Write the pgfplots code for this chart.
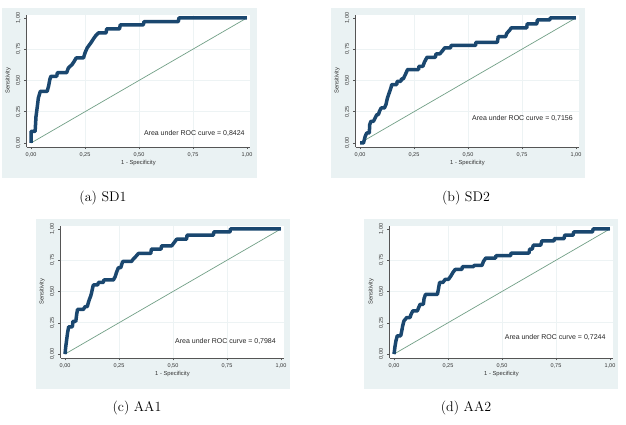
\documentclass[border=0pt]{standalone}
\usepackage{pgfplots}
\pgfplotsset{compat=1.18}
\usepackage{fontspec}
\newfontfamily\stata{Liberation Sans}
\definecolor{bgc}{HTML}{EAF2F3}
\definecolor{gridc}{HTML}{EDF3F4}
\definecolor{navyc}{HTML}{1A476F}
\definecolor{diagc}{HTML}{72A087}
\definecolor{axc}{HTML}{555555}

\pgfplotsset{roc/.style={
 scale only axis, width=223.5pt, height=132pt,
 xmin=-0.02, xmax=1.015, ymin=-0.03, ymax=1.025,
 axis x line*=bottom, axis y line*=left,
 axis line style={draw=axc, line width=0.5pt, -},
 axis background/.style={fill=white},
 xtick={0,0.25,0.5,0.75,1}, ytick={0,0.25,0.5,0.75,1},
 xticklabels={{0,00},{0,25},{0,50},{0,75},{1,00}},
 yticklabels={{0,00},{0,25},{0,50},{0,75},{1,00}},
 tick align=outside, major tick length=2.5pt,
 tick style={draw=axc, line width=0.5pt},
 ticklabel style={font=\stata\fontsize{5.5}{6}\selectfont, text=black!80},
 yticklabel style={rotate=90, anchor=south},
 extra x ticks={0.25,0.5,0.75}, extra y ticks={0.25,0.5,0.75},
 extra x tick labels={}, extra y tick labels={},
 extra tick style={grid=major, major tick length=0pt},
 grid style={draw=gridc, line width=0.8pt},
 xlabel={1 - Specificity}, ylabel={Sensitivity},
 label style={font=\stata\fontsize{5.8}{6.5}\selectfont, text=black!80},
 xlabel shift=-6pt, ylabel shift=-4pt,
 clip=false,
}}
\tikzset{auc/.style={font=\stata\fontsize{7}{8}\selectfont, text=black!85, anchor=east, inner sep=0pt}}
\tikzset{mycap/.style={font=\fontsize{14}{16}\selectfont}}

\begin{document}
\begin{tikzpicture}
\fill[white] (0pt,0pt) rectangle (626pt,424pt);
\fill[bgc] (2pt,246pt) rectangle (257pt,416pt);
\fill[bgc] (331pt,246pt) rectangle (585pt,416pt);
\fill[bgc] (36pt,35pt) rectangle (290pt,205pt);
\fill[bgc] (364pt,35pt) rectangle (618pt,205pt);

% (a) SD1
\begin{axis}[roc, at={(26.7pt,277.25pt)}, anchor=south west]
\addplot[diagc, line width=0.7pt] coordinates {(0,0) (1,1)};
\addplot[navyc, line width=3.5pt, line join=round] coordinates {
(0,0) (0,0.093) (0.019,0.093) (0.023,0.21) (0.029,0.29) (0.034,0.36) (0.04,0.395) (0.043,0.413) (0.075,0.413) (0.082,0.46) (0.087,0.507) (0.092,0.533) (0.119,0.533) (0.122,0.562) (0.165,0.562) (0.173,0.6) (0.19,0.627) (0.2,0.653) (0.209,0.68) (0.243,0.68) (0.25,0.72) (0.26,0.76) (0.277,0.8) (0.289,0.832) (0.3,0.859) (0.312,0.88) (0.348,0.88) (0.35,0.912) (0.41,0.912) (0.413,0.944) (0.52,0.944) (0.523,0.97) (0.682,0.97) (0.685,1) (1,1)};
\node[auc] at (axis cs:0.99,0.08) {Area under ROC curve = 0,8424};
\end{axis}

% (b) SD2
\begin{axis}[roc, at={(355.7pt,277.25pt)}, anchor=south west]
\addplot[diagc, line width=0.7pt] coordinates {(0,0) (1,1)};
\addplot[navyc, line width=3.5pt, line join=round] coordinates {
(0,0) (0.016,0) (0.02,0.027) (0.024,0.053) (0.031,0.08) (0.043,0.08) (0.045,0.147) (0.05,0.173) (0.062,0.173) (0.07,0.2) (0.078,0.227) (0.085,0.227) (0.09,0.253) (0.098,0.28) (0.113,0.28) (0.12,0.307) (0.127,0.36) (0.135,0.4) (0.143,0.44) (0.147,0.467) (0.17,0.467) (0.172,0.493) (0.189,0.493) (0.192,0.512) (0.2,0.512) (0.21,0.547) (0.22,0.587) (0.271,0.587) (0.273,0.613) (0.291,0.613) (0.298,0.645) (0.31,0.685) (0.349,0.685) (0.352,0.712) (0.369,0.712) (0.38,0.733) (0.392,0.76) (0.419,0.76) (0.422,0.78) (0.535,0.78) (0.537,0.805) (0.636,0.805) (0.64,0.85) (0.674,0.85) (0.68,0.877) (0.694,0.904) (0.7,0.92) (0.772,0.92) (0.774,0.952) (0.819,0.952) (0.821,0.984) (0.879,0.984) (0.881,1) (1,1)};
\node[auc] at (axis cs:0.986,0.2) {Area under ROC curve = 0,7156};
\end{axis}

% (c) AA1
\begin{axis}[roc, at={(60.7pt,66.2pt)}, anchor=south west]
\addplot[diagc, line width=0.7pt] coordinates {(0,0) (1,1)};
\addplot[navyc, line width=3.5pt, line join=round] coordinates {
(0,0) (0.003,0.053) (0.008,0.12) (0.012,0.172) (0.017,0.218) (0.034,0.218) (0.037,0.262) (0.05,0.262) (0.054,0.318) (0.058,0.357) (0.085,0.357) (0.093,0.379) (0.103,0.379) (0.108,0.41) (0.113,0.437) (0.119,0.464) (0.123,0.49) (0.128,0.53) (0.131,0.552) (0.151,0.552) (0.155,0.572) (0.177,0.572) (0.18,0.592) (0.224,0.592) (0.232,0.618) (0.239,0.655) (0.247,0.69) (0.258,0.69) (0.267,0.74) (0.308,0.74) (0.317,0.761) (0.329,0.782) (0.34,0.804) (0.397,0.804) (0.4,0.839) (0.445,0.839) (0.447,0.865) (0.494,0.865) (0.505,0.89) (0.517,0.918) (0.563,0.918) (0.565,0.95) (0.687,0.95) (0.689,0.976) (0.764,0.976) (0.766,1) (1,1)};
\node[auc] at (axis cs:0.977,0.10) {Area under ROC curve = 0,7984};
\end{axis}

% (d) AA2
\begin{axis}[roc, at={(389.7pt,66.2pt)}, anchor=south west]
\addplot[diagc, line width=0.7pt] coordinates {(0,0) (1,1)};
\addplot[navyc, line width=3.5pt, line join=round] coordinates {
(0,0) (0.005,0.066) (0.009,0.106) (0.015,0.146) (0.031,0.146) (0.036,0.186) (0.04,0.225) (0.046,0.265) (0.059,0.292) (0.074,0.292) (0.079,0.318) (0.087,0.345) (0.108,0.345) (0.114,0.371) (0.121,0.398) (0.136,0.398) (0.139,0.443) (0.146,0.477) (0.201,0.477) (0.206,0.523) (0.211,0.572) (0.226,0.572) (0.237,0.597) (0.252,0.597) (0.263,0.623) (0.272,0.65) (0.283,0.676) (0.314,0.676) (0.317,0.698) (0.368,0.698) (0.37,0.708) (0.407,0.708) (0.415,0.743) (0.425,0.767) (0.47,0.767) (0.472,0.786) (0.54,0.786) (0.542,0.807) (0.625,0.807) (0.628,0.839) (0.64,0.839) (0.645,0.87) (0.679,0.87) (0.685,0.905) (0.741,0.905) (0.743,0.923) (0.788,0.923) (0.79,0.95) (0.829,0.95) (0.832,0.976) (0.919,0.976) (0.922,1) (1,1)};
\node[auc] at (axis cs:0.98,0.135) {Area under ROC curve = 0,7244};
\end{axis}

\node[mycap] at (103pt,226pt) {(a) SD1};
\node[mycap] at (466pt,226pt) {(b) SD2};
\node[mycap] at (137pt,16pt) {(c) AA1};
\node[mycap] at (466pt,16pt) {(d) AA2};
\end{tikzpicture}
\end{document}
